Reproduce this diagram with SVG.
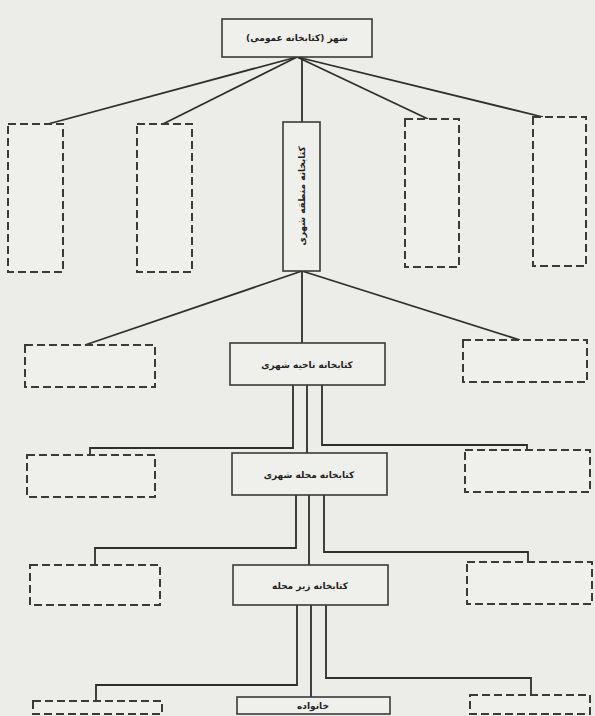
<svg xmlns="http://www.w3.org/2000/svg" width="595" height="716" viewBox="0 0 595 716">
<style>
.bg{fill:#ecece8}
.box{fill:#efefeb;stroke:#3a3a3a;stroke-width:1.6}
.dash{fill:#efefeb;stroke:#3a3a3a;stroke-width:2;stroke-dasharray:8 4}
.ln{fill:none;stroke:#2e2e2e;stroke-width:1.8}
.t{font-family:"DejaVu Sans","Noto Sans",sans-serif;font-size:9px;font-weight:bold;fill:#222;text-anchor:middle}
</style>
<rect class="bg" x="0" y="0" width="595" height="716"/>
<g id="connectors">
<path class="ln" d="M297,57 L48,124"/>
<path class="ln" d="M297,57 L163,124"/>
<path class="ln" d="M302,57 L302,122"/>
<path class="ln" d="M297,57 L428,119"/>
<path class="ln" d="M297,57 L543,117"/>
<path class="ln" d="M302,271 L85,345"/>
<path class="ln" d="M302,271 L302,343"/>
<path class="ln" d="M302,271 L520,340"/>
<path class="ln" d="M293,385 V448 H90 V455"/>
<path class="ln" d="M307,385 V453"/>
<path class="ln" d="M322,385 V445 H527 V450"/>
<path class="ln" d="M296,495 V548 H95 V565"/>
<path class="ln" d="M309,495 V565"/>
<path class="ln" d="M324,495 V552 H528 V562"/>
<path class="ln" d="M297,605 V685 H96 V701"/>
<path class="ln" d="M311,605 V697"/>
<path class="ln" d="M326,605 V678 H531 V695"/>
</g>
<g id="city">
<rect class="box" x="222" y="19" width="150" height="38"/>
<text class="t" x="297" y="41">شهر (کتابخانه عمومی)</text>
</g>
<g id="d2a"><rect class="dash" x="8" y="124" width="55" height="148"/></g>
<g id="d2b"><rect class="dash" x="137" y="124" width="55" height="148"/></g>
<g id="region">
<rect class="box" x="283" y="122" width="37" height="149"/>
<text class="t" transform="translate(305,196) rotate(-90)">کتابخانه منطقه شهری</text>
</g>
<g id="d2c"><rect class="dash" x="405" y="119" width="54" height="148"/></g>
<g id="d2d"><rect class="dash" x="533" y="117" width="53" height="149"/></g>
<g id="d3a"><rect class="dash" x="25" y="345" width="130" height="42"/></g>
<g id="district">
<rect class="box" x="230" y="343" width="155" height="42"/>
<text class="t" x="307" y="368">کتابخانه ناحیه شهری</text>
</g>
<g id="d3b"><rect class="dash" x="463" y="340" width="124" height="42"/></g>
<g id="d4a"><rect class="dash" x="27" y="455" width="128" height="42"/></g>
<g id="neighborhood">
<rect class="box" x="232" y="453" width="155" height="42"/>
<text class="t" x="309" y="478">کتابخانه محله شهری</text>
</g>
<g id="d4b"><rect class="dash" x="465" y="450" width="125" height="42"/></g>
<g id="d5a"><rect class="dash" x="30" y="565" width="130" height="40"/></g>
<g id="subneighborhood">
<rect class="box" x="233" y="565" width="155" height="40"/>
<text class="t" x="310" y="589">کتابخانه زیر محله</text>
</g>
<g id="d5b"><rect class="dash" x="467" y="562" width="125" height="42"/></g>
<g id="d6a"><rect class="dash" x="33" y="701" width="129" height="13"/></g>
<g id="family">
<rect class="box" x="237" y="697" width="153" height="17"/>
<text class="t" x="313" y="709">خانواده</text>
</g>
<g id="d6b"><rect class="dash" x="470" y="695" width="120" height="19"/></g>
</svg>
